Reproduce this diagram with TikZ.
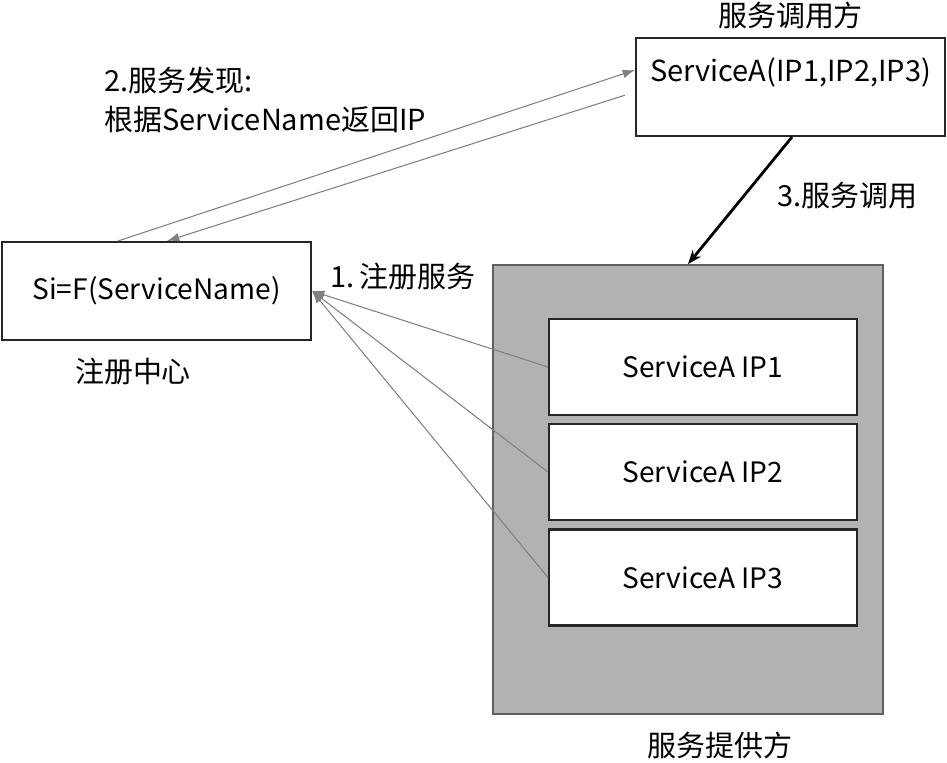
\documentclass[tikz,border=0pt]{standalone}
\usepackage{fontspec}
\setmainfont{Noto Sans CJK SC}
\usetikzlibrary{arrows.meta,positioning}
\definecolor{providercolor}{HTML}{B2B2B2}
\definecolor{providerborder}{HTML}{5F5F5F}
\definecolor{linkcolor}{HTML}{808080}

\begin{document}
\begin{tikzpicture}[x=0.02cm, y=-0.02cm,
    box/.style={
        rectangle, draw=black!85, line width=1.2pt, fill=white,
        minimum width=6.18cm, minimum height=1.96cm, inner sep=0pt,
        font=\fontsize{16}{19}\selectfont
    },
    instance/.style={
        rectangle, draw=black!85, line width=1.2pt, fill=white,
        minimum width=6.16cm, minimum height=1.92cm, inner sep=0pt,
        font=\fontsize{16}{19}\selectfont
    },
    provider/.style={
        rectangle, draw=providerborder, line width=1pt, fill=providercolor,
        minimum width=7.8cm, minimum height=8.98cm
    },
    caption/.style={
        font=\fontsize{16.5}{20}\selectfont, inner sep=0pt
    },
    steplabel/.style={
        font=\fontsize{16.5}{22}\selectfont, inner sep=0pt, anchor=west, align=left
    },
    thinlink/.style={
        -{Latex[length=7pt, width=5pt]}, line width=0.6pt, color=linkcolor
    },
    calllink/.style={
        -{Stealth[length=8pt, width=6pt]}, line width=1.6pt, color=black
    }
]
\useasboundingbox (0,0) rectangle (947,763);

% Registry
\node[box] (registry) at (156.5, 291) {Si=F(ServiceName)};
\node[caption] (registrylabel) at (133, 372) {注册中心};

% Caller
\node[box] (caller) at (790.5, 87) {};
\node[caption] (callertext) at (790.5, 72) {ServiceA(IP1,IP2,IP3)};
\node[caption] (callerlabel) at (790.5, 15) {服务调用方};

% Provider with instances
\node[provider] (provider) at (688, 489.5) {};
\node[instance] (ip1) at (703, 367) {ServiceA IP1};
\node[instance] (ip2) at (703, 472) {ServiceA IP2};
\node[instance] (ip3) at (703, 577.5) {ServiceA IP3};
\node[caption] (providerlabel) at (720, 745) {服务提供方};

% 1. register
\foreach \ip in {ip1, ip2, ip3}
    \draw[thinlink] (\ip.west) -- (registry.east);
\node[steplabel] (registerlabel) at (330, 277) {1.\,注册服务};

% 2. discovery
\draw[thinlink] ([xshift=-0.77cm]registry.north) -- ([yshift=0.34cm]caller.west);
\draw[thinlink, shorten <=6pt] ([yshift=-0.1cm]caller.west) -- ([xshift=0.21cm]registry.north);
\node[steplabel] (discoverlabel) at (104, 100) {2.服务发现:\\根据ServiceName返回IP};

% 3. call
\draw[calllink] ([xshift=0.03cm]caller.south) -- (provider.north);
\node[steplabel] (calllabel) at (777, 196) {3.服务调用};

\end{tikzpicture}
\end{document}
